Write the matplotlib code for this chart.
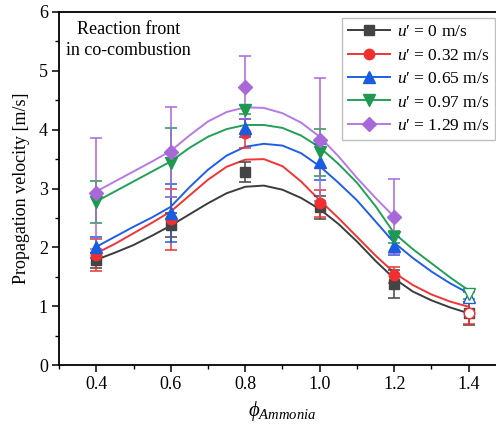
import matplotlib
matplotlib.use("Agg")
import matplotlib.pyplot as plt
from matplotlib.lines import Line2D
from matplotlib.ticker import MultipleLocator

plt.rcParams['font.family'] = ['Liberation Serif', 'DejaVu Serif']
plt.rcParams['mathtext.fontset'] = 'custom'
plt.rcParams['mathtext.rm'] = 'Liberation Serif'
plt.rcParams['mathtext.it'] = 'Liberation Serif:italic'

phi = [0.4, 0.6, 0.8, 1.0, 1.2, 1.4]
labels = ["$u$\u2032 = 0 m/s", "$u$\u2032 = 0.32 m/s", "$u$\u2032 = 0.65 m/s",
          "$u$\u2032 = 0.97 m/s", "$u$\u2032 = 1.29 m/s"]

# measured points
v0 = [1.78, 2.38, 3.28, 2.68, 1.38, 0.88]
v1 = [1.87, 2.48, 3.94, 2.75, 1.53, 0.88]
v2 = [2.00, 2.58, 4.03, 3.45, 2.02, 1.16]
v3 = [2.77, 3.44, 4.34, 3.62, 2.18, 1.21]
v4 = [2.92, 3.62, 4.72, 3.83, 2.52]
e0 = [0.13, 0.20, 0.17, 0.20, 0.24, 0.20]
e1 = [0.27, 0.52, 0.25, 0.23, 0.14, 0.18]
e2 = [0.18, 0.49, 0.15, 0.30, 0.15, 0.08]
e3 = [0.36, 0.59, 0.08, 0.40, 0.10, 0.08]
e4 = [0.94, 0.76, 0.54, 1.05, 0.64]

# fitted curves
phi_fit = [0.4, 0.45, 0.5, 0.55, 0.6, 0.65, 0.7, 0.75, 0.8, 0.85, 0.9, 0.95, 1.0,
           1.05, 1.1, 1.15, 1.2, 1.25, 1.3, 1.35, 1.4]
f0 = [1.79, 1.91, 2.04, 2.20, 2.37, 2.56, 2.75, 2.92, 3.03, 3.05, 2.98, 2.84, 2.65,
      2.40, 2.10, 1.77, 1.47, 1.25, 1.10, 0.98, 0.88]
f1 = [1.90, 2.06, 2.24, 2.42, 2.61, 2.88, 3.15, 3.37, 3.49, 3.50, 3.38, 3.12, 2.80,
      2.50, 2.18, 1.86, 1.57, 1.36, 1.20, 1.08, 0.99]
f2 = [2.01, 2.18, 2.35, 2.51, 2.69, 3.02, 3.32, 3.56, 3.71, 3.76, 3.73, 3.60, 3.38,
      3.10, 2.80, 2.44, 2.08, 1.82, 1.59, 1.39, 1.22]
f3 = [2.78, 2.95, 3.12, 3.29, 3.46, 3.69, 3.88, 4.01, 4.08, 4.08, 4.03, 3.90, 3.70,
      3.42, 3.10, 2.70, 2.24, 1.97, 1.73, 1.49, 1.27]
f4 = [2.95, 3.12, 3.29, 3.46, 3.64, 3.90, 4.14, 4.30, 4.38, 4.37, 4.28, 4.12, 3.88,
      3.55, 3.18, 2.84, 2.52]

line_colors = ['#3c3c3c', '#f03535', '#1f5fe6', '#22a058', '#b57ae6']
mark_colors = ['#444444', '#f03030', '#1a5ce0', '#1e9a50', '#a868d8']
markers = ['s', 'o', '^', 'v', 'D']
msizes = [7, 7.5, 8, 8, 7]

fig = plt.figure(figsize=(4.96, 4.28), dpi=100)
ax = fig.add_axes([0.119, 0.147, 0.901, 0.825])

vals = [v0, v1, v2, v3, v4]
errs = [e0, e1, e2, e3, e4]
fits = [f0, f1, f2, f3, f4]

for i in range(5):
    n = len(fits[i])
    ax.plot(phi_fit[:n], fits[i], color=line_colors[i], lw=1.4, zorder=2)
for i in range(5):
    m = len(vals[i])
    ax.errorbar(phi[:m], vals[i], yerr=errs[i], fmt='none', ecolor=mark_colors[i],
                elinewidth=1.1, capsize=4, capthick=1.1, zorder=3)
    for j in range(m):
        last = (phi[j] == 1.4)
        ax.plot(phi[j], vals[i][j], marker=markers[i], ms=msizes[i],
                mfc='white' if last else mark_colors[i], mec=mark_colors[i],
                mew=1.0, ls='none', zorder=4)

ax.set_xlim(0.3, 1.5)
ax.set_ylim(0, 6)
ax.xaxis.set_major_locator(MultipleLocator(0.2))
ax.xaxis.set_minor_locator(MultipleLocator(0.1))
ax.yaxis.set_major_locator(MultipleLocator(1))
ax.yaxis.set_minor_locator(MultipleLocator(0.5))
ax.set_xticks([0.4, 0.6, 0.8, 1.0, 1.2, 1.4])
ax.set_xticklabels(['0.4', '0.6', '0.8', '1.0', '1.2', '1.4'])
ax.tick_params(which='major', direction='out', length=5, width=1.1, labelsize=13, pad=3)
ax.tick_params(which='minor', direction='out', length=3, width=1.0)
for s in ax.spines.values():
    s.set_linewidth(1.3)

ax.set_ylabel('Propagation velocity [m/s]', fontsize=13, labelpad=6)
ax.set_xlabel(r'$\phi_{Ammonia}$', fontsize=15, labelpad=4)

ax.text(0.016, 0.975, 'Reaction front\nin co-combustion', transform=ax.transAxes,
        fontsize=13, ha='left', va='top', multialignment='center', linespacing=1.3)

handles = [Line2D([0], [0], color=line_colors[i], lw=1.4, marker=markers[i],
                  ms=msizes[i], mfc=mark_colors[i], mec=mark_colors[i])
           for i in range(5)]
leg = ax.legend(handles, labels, loc='upper left', bbox_to_anchor=(0.633, 0.983),
                fontsize=12.5, frameon=True, fancybox=False, edgecolor='#b0b0b0',
                handlelength=2.4, handletextpad=0.4, borderpad=0.35, labelspacing=0.42,
                borderaxespad=0.0)
leg.get_frame().set_linewidth(1.0)

fig.savefig('out.png', dpi=100)
